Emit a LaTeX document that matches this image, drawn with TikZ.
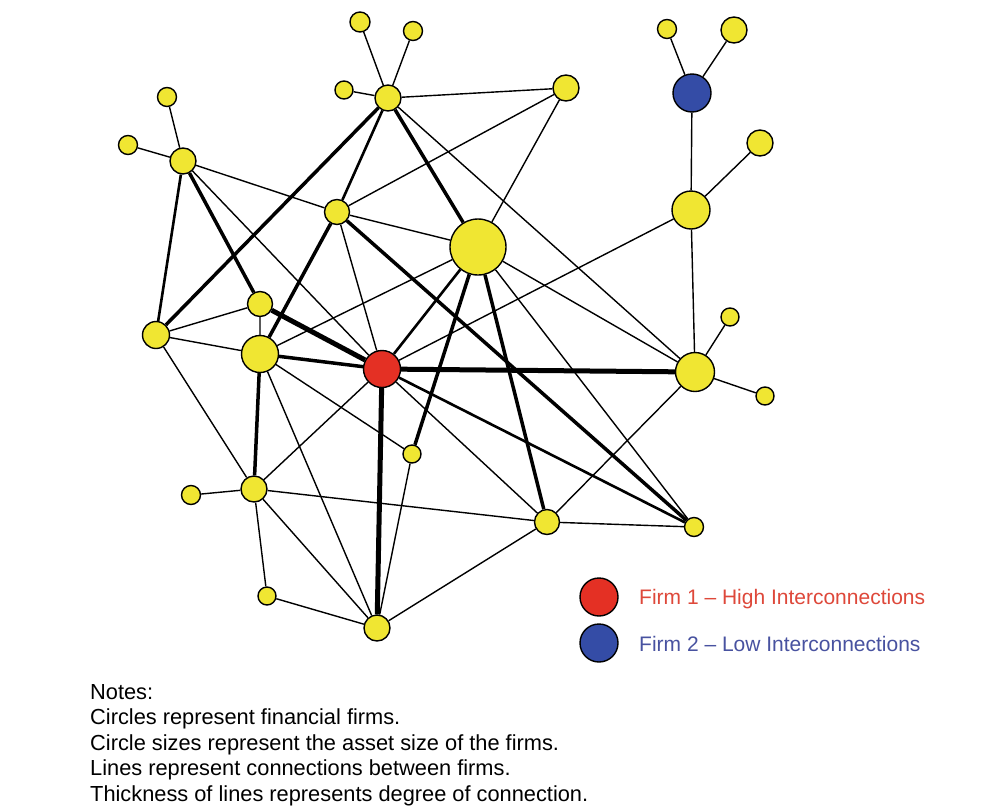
\documentclass[tikz,border=0pt]{standalone}
\usepackage{fontspec}
\setmainfont{Liberation Sans}
\definecolor{fy}{RGB}{240,230,50}
\definecolor{fred}{RGB}{228,48,36}
\definecolor{fblue}{RGB}{52,76,166}
\definecolor{tred}{RGB}{222,72,58}
\definecolor{tblue}{RGB}{72,82,160}
\pgfdeclarelayer{bg}
\pgfsetlayers{bg,main}
\begin{document}
\begin{tikzpicture}[x=1pt,y=-1pt,
  firm/.style={circle,draw=black,line width=1.4pt,fill=fy,minimum size=#1,inner sep=0pt},
  thin/.style={line width=1.4pt},
  med/.style={line width=2.6pt},
  thk/.style={line width=3.5pt},
  vthk/.style={line width=5pt},
  legtext/.style={anchor=base west,inner sep=0pt,font=\fontsize{21pt}{26pt}\selectfont},
  notetext/.style={anchor=base west,inner sep=0pt,font=\fontsize{21.8pt}{26pt}\selectfont}]
\useasboundingbox (0,0) rectangle (995,806);
% nodes
\node[firm=20pt] (t1) at (360,22) {};
\node[firm=19pt] (t2) at (413,31) {};
\node[firm=18pt] (t3) at (344,90) {};
\node[firm=26pt] (H) at (388,98) {};
\node[firm=26pt] (TR) at (566,88) {};
\node[firm=19pt] (b1) at (667,29) {};
\node[firm=26pt] (b2) at (734,30) {};
\node[firm=38pt,fill=fblue] (B) at (692,93) {};
\node[firm=19pt] (L1) at (167,97) {};
\node[firm=19pt] (L2) at (128,145) {};
\node[firm=26pt] (LH) at (183,161) {};
\node[firm=25pt] (M) at (337,212) {};
\node[firm=56pt] (Big) at (478,247) {};
\node[firm=26pt] (r1) at (760,143) {};
\node[firm=38pt] (R1) at (691,210) {};
\node[firm=25pt] (S) at (260,304) {};
\node[firm=27pt] (LL) at (156,335) {};
\node[firm=37pt] (G) at (260,354) {};
\node[firm=37pt,fill=fred] (Red) at (382,369) {};
\node[firm=39pt] (RR) at (695,372) {};
\node[firm=18pt] (rr1) at (730,317) {};
\node[firm=18pt] (rr2) at (765,396) {};
\node[firm=18pt] (sm) at (412,454) {};
\node[firm=19pt] (W) at (191,495) {};
\node[firm=26pt] (D) at (254,489) {};
\node[firm=25pt] (E) at (547,522) {};
\node[firm=19pt] (F) at (694,527) {};
\node[firm=18pt] (K) at (267,596) {};
\node[firm=26pt] (Bot) at (377,628) {};
% edges
\begin{pgfonlayer}{bg}
\fill[white] (0,0) rectangle (995,806);
\draw[thin] (H)--(t1) (H)--(t2) (H)--(t3) (H)--(TR) (H)--(RR);
\draw[med] (H)--(M);
\draw[thk] (H)--(LL) (H)--(Big);
\draw[thin] (TR)--(M) (TR)--(Big);
\draw[thin] (B)--(b1) (B)--(b2) (B)--(R1);
\draw[thin] (R1)--(r1) (R1)--(RR) (R1)--(Red);
\draw[thin] (LH)--(L1) (LH)--(L2) (LH)--(M) (LH)--(Red);
\draw[thk] (LH)--(S);
\draw[med] (LH)--(LL);
\draw[thin] (M)--(Big) (M)--(Red);
\draw[thk] (M)--(G) (M)--(F);
\draw[thin] (Big)--(G) (Big)--(F) (Big)--(RR);
\draw[med] (Big)--(Red);
\draw[thk] (Big)--(sm) (Big)--(E);
\draw[thin] (S)--(LL) (S)--(G);
\draw[vthk] (S)--(Red);
\draw[thin] (LL)--(G) (LL)--(D);
\draw[thk] (G)--(Red) (G)--(D);
\draw[thin] (G)--(sm) (G)--(Bot);
\draw[vthk] (Red)--(RR) (Red)--(Bot);
\draw[thin] (Red)--(D) (Red)--(E);
\draw[med] (Red)--(F);
\draw[thin] (RR)--(rr1) (RR)--(rr2) (RR)--(E);
\draw[thin] (sm)--(Bot);
\draw[thin] (D)--(W) (D)--(E) (D)--(K) (D)--(Bot);
\draw[thin] (K)--(Bot);
\draw[thin] (E)--(F) (E)--(Bot);
\end{pgfonlayer}
% legend
\node[firm=38pt,fill=fred] (leg1) at (599,597) {};
\node[firm=38pt,fill=fblue] (leg2) at (599,643) {};
\node[legtext,text=tred] (leg1t) at (639,604) {Firm 1 -- High Interconnections};
\node[legtext,text=tblue] (leg2t) at (639,651) {Firm 2 -- Low Interconnections};
% notes
\node[notetext] (n1) at (90,699) {Notes:};
\node[notetext] (n2) at (90,724.5) {Circles represent financial firms.};
\node[notetext] (n3) at (90,750) {Circle sizes represent the asset size of the firms.};
\node[notetext] (n4) at (90,775.5) {Lines represent connections between firms.};
\node[notetext] (n5) at (90,801) {Thickness of lines represents degree of connection.};
\end{tikzpicture}
\end{document}
